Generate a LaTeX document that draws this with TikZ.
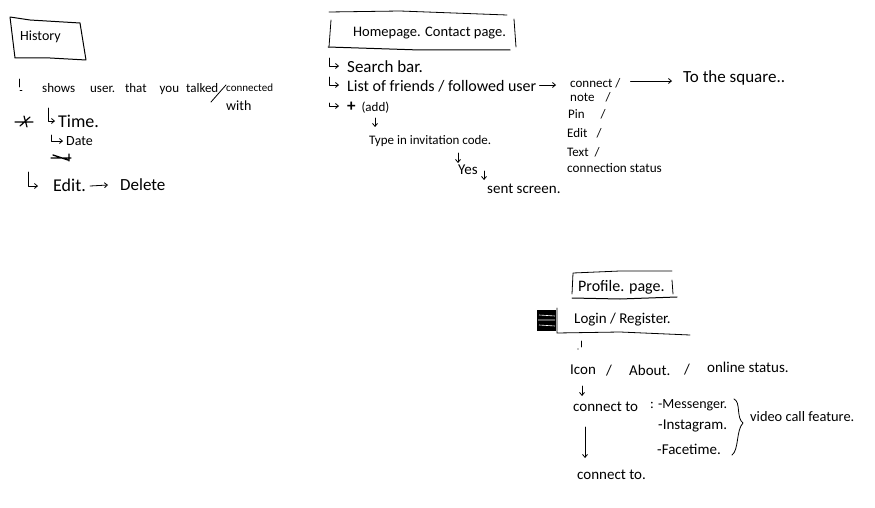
\documentclass[tikz,border=0pt]{standalone}
\usepackage{fontspec}
\setmainfont{Carlito}
\usetikzlibrary{arrows.meta,positioning,calc,decorations.pathreplacing}
\tikzset{
  hand/.style={anchor=west,inner sep=0pt,font=\fontsize{13}{15}\selectfont},
  handmid/.style={hand,font=\fontsize{15}{17}\selectfont},
  handbig/.style={hand,font=\fontsize{17}{19}\selectfont},
  pen/.style={line width=0.8pt,line cap=round,line join=round},
  penarrow/.style={pen,-{Straight Barb[length=3pt,width=5pt]}},
}
\begin{document}
\begin{tikzpicture}[x=1pt,y=-1pt]
  \useasboundingbox (0,0) rectangle (875,508);

  % history
  \node[hand,font=\fontsize{14}{16}\selectfont] (hist) at (20,37) {History};
  \draw[pen,line width=1pt] (10,17) -- (30,20) -- (80,23) -- (86,60) -- (50,58) -- (15,58) -- cycle;
  \node[hand] (shows) at (42,89) {shows\hspace{15pt}user.\hspace{10pt}that\hspace{13pt}you\hspace{7pt}talked};
  \node[hand,font=\fontsize{11}{13}\selectfont] (conn) at (226,88) {connected};
  \node[hand,font=\fontsize{14}{16}\selectfont] (with) at (226,106) {with};
  \node[hand,font=\fontsize{18}{20}\selectfont] (time) at (58,121) {Time.};
  \node[hand,font=\fontsize{14}{16}\selectfont] (date) at (66,141) {Date};
  \node[hand,font=\fontsize{18}{20}\selectfont] (edit) at (53,185) {Edit.};
  \node[handbig] (del) at (120,185) {Delete};
  \coordinate (h0) at (19,79);
  \coordinate (h0e) at (22,90);
  \coordinate (h1) at (48,108);
  \coordinate (h2) at (51,135);
  \coordinate (h3) at (28,172);
  \draw[pen] (h0) -- (19,87) (20,90) -- (h0e);
  \draw[pen] (211,102) -- (226,85);
  \draw[penarrow] (h1) |- ($(time.west)+(-3,0)$);
  \draw[penarrow] (h2) |- ($(date.west)+(-3,0)$);
  \draw[penarrow] (h3) |- ($(edit.west)+(-15,1)$);
  \draw[penarrow] ($(edit.east)+(4,1)$) -- ($(del.west)+(-12,0)$);
  % crossed out
  \draw[pen,line width=1.2pt] (15,122) -- (33,122) (24,116) -- (27,127) (20,126) -- (30,117);
  \draw[pen,line width=1.4pt] (51,158) -- (71,158) (53,155) -- (68,160) (69,154) -- (69,161);

  % homepage
  \node[hand,font=\fontsize{14.5}{17}\selectfont] (home) at (353,33) {Homepage. Contact page.};
  \draw[pen] (329,12) -- (400,11) -- (507,15);
  \draw[pen] (331,20) -- (329,47);
  \draw[pen,line width=1pt] (328,47) -- (420,50) -- (510,50);
  \draw[pen] (514,19) -- (516,47);
  \node[handbig] (search) at (347,67) {Search bar.};
  \node[hand,font=\fontsize{16}{18}\selectfont] (list) at (347,86) {List of friends / followed user};
  \node[hand] (add) at (347,108) {\textbf{\fontsize{17}{19}\selectfont +} \ (add)};
  \node[hand] (code) at (369,141) {Type in invitation code.};
  \node[handmid] (yes) at (458,170) {Yes};
  \node[handmid] (sent) at (487,189) {sent screen.};
  \coordinate (s0) at (329,58);
  \coordinate (s1) at (329,77);
  \coordinate (s2) at (329,103);
  \coordinate (a0) at (375,118);
  \coordinate (a1) at (458,153);
  \coordinate (a2) at (484,171);
  \draw[penarrow] (s0) |- ($(search.west)+(-8,-1)$);
  \draw[penarrow] (s1) |- ($(list.west)+(-8,-1)$);
  \draw[penarrow] (s2) |- ($(add.west)+(-8,-2)$);
  \draw[penarrow] (a0) -- ++(0,9);
  \draw[penarrow] (a1) -- ++(0,10);
  \draw[penarrow] (a2) -- ++(0,9);

  \node[hand] (cn) at (570,83) {connect /};
  \node[hand] (note) at (570,97) {note\hspace{11pt}/};
  \node[hand] (pin) at (568,114) {Pin\hspace{16pt}/};
  \node[hand] (ed) at (567,133) {Edit\hspace{9pt}/};
  \node[hand] (txt) at (567,152) {Text\hspace{6pt}/};
  \node[hand,font=\fontsize{13.2}{15}\selectfont] (stat) at (567,168) {connection status};
  \node[handbig] (sq) at (683,78) {To the square..};
  \draw[penarrow] ($(list.east)+(3,-1)$) -- ($(cn.west)+(-14,2)$);
  \draw[penarrow] ($(cn.east)+(10,-2)$) -- ($(sq.west)+(-11,3)$);

  % profile
  \node[hand,font=\fontsize{16}{18}\selectfont] (prof) at (578,287) {Profile. page.};
  \draw[pen] (572,294) -- (573,273) -- (620,271) -- (672,271);
  \draw[pen] (672,280) -- (673,294);
  \draw[pen,line width=1pt] (572,298) -- (620,299) -- (677,297);
  \node[handmid] (login) at (574,320) {Login / Register.};
  \fill (537,310) rectangle (556,331);
  \draw[white,line width=0.6pt] (539,315) -- (555,316) (538,320) -- (555,320) (539,325) -- (555,326);
  \draw[pen] (557,308) -- (557,333) -- (620,332) -- (690,335);
  \coordinate (p0) at (581,341);
  \draw[pen] (p0) -- (581,347);
  \fill (578,349) circle (0.6);
  \node[handmid] (icon) at (570,370) {Icon};
  \node[handmid] (sl1) at (606,371) {/};
  \node[handmid] (about) at (629,370) {About.};
  \node[handmid] (sl2) at (684,370) {/};
  \node[handmid] (online) at (707,367) {online status.};
  \node[handmid] (to) at (573,407) {connect to};
  \node[hand,font=\fontsize{14}{16}\selectfont] (mess) at (650,405) {: -Messenger.};
  \node[handmid] (ins) at (658,426) {-Instagram.};
  \node[handmid] (face) at (657,449) {-Facetime.};
  \node[hand,font=\fontsize{14.4}{17}\selectfont] (video) at (750,417) {video call feature.};
  \node[handmid] (to2) at (577,475) {connect to.};
  \coordinate (b0) at (582,386);
  \coordinate (b1) at (585,427);
  \draw[penarrow] (b0) -- ++(0,10);
  \draw[penarrow] (b1) -- ++(0,31);
  \draw[pen] (734,399) .. controls (741,402) and (736,418) .. (743,423) .. controls (736,430) and (739,450) .. (732,455);
\end{tikzpicture}
\end{document}
